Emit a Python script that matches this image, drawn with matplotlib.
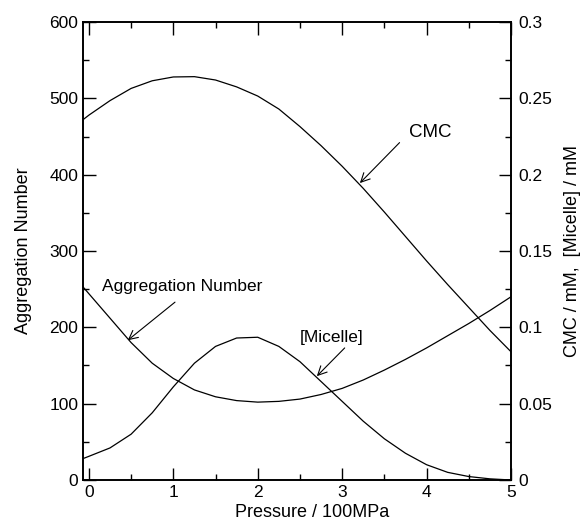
import matplotlib
matplotlib.use('Agg')
import matplotlib.pyplot as plt
from matplotlib.ticker import MultipleLocator

plt.rcParams['font.family'] = ['Liberation Sans', 'DejaVu Sans']

# pressure (100 MPa)
pressure = [-0.07, 0.0, 0.25, 0.5, 0.75, 1.0, 1.25, 1.5, 1.75, 2.0, 2.25, 2.5,
            2.75, 3.0, 3.25, 3.5, 3.75, 4.0, 4.25, 4.5, 4.75, 5.0]
# aggregation number (left axis)
agg_number = [253, 244, 212, 180, 153, 133, 118, 109, 104, 102, 103, 106,
              112, 120, 131, 144, 158, 173, 189, 205, 222, 240]
# CMC / mM (right axis)
cmc = [0.236, 0.239, 0.2485, 0.2565, 0.2615, 0.264, 0.2642, 0.262, 0.2575,
       0.2515, 0.243, 0.2315, 0.219, 0.2055, 0.191, 0.1755, 0.1595, 0.1435,
       0.128, 0.113, 0.098, 0.084]
# [Micelle] / mM (right axis)
micelle = [0.014, 0.0155, 0.021, 0.030, 0.044, 0.061, 0.0765, 0.0875, 0.093,
           0.0935, 0.0875, 0.0775, 0.0645, 0.0515, 0.0385, 0.027, 0.0175,
           0.010, 0.005, 0.00225, 0.00075, 0.0]

fig = plt.figure(figsize=(5.82, 5.24), dpi=100)
ax = fig.add_axes([0.1426, 0.084, 0.7354, 0.874])
ax2 = ax.twinx()

lw = 0.9
ax.plot(pressure, agg_number, color='black', lw=lw)
ax2.plot(pressure, cmc, color='black', lw=lw)
ax2.plot(pressure, micelle, color='black', lw=lw)

ax.set_xlim(-0.07, 5.0)
ax.set_ylim(0, 600)
ax2.set_ylim(0, 0.3)

ax.xaxis.set_major_locator(MultipleLocator(1))
ax.xaxis.set_minor_locator(MultipleLocator(0.5))
ax.yaxis.set_major_locator(MultipleLocator(100))
ax.yaxis.set_minor_locator(MultipleLocator(50))
ax2.yaxis.set_major_locator(MultipleLocator(0.05))
ax2.yaxis.set_minor_locator(MultipleLocator(0.025))

fs = 12.5
ax.tick_params(which='both', direction='in', top=True, right=False,
               labelsize=fs, width=1.0)
ax.tick_params(which='major', length=9)
ax.tick_params(which='minor', length=4.5)
ax2.tick_params(which='both', direction='in', labelsize=fs, width=1.0)
ax2.tick_params(which='major', length=9, pad=5)
ax2.tick_params(which='minor', length=4.5)

ax.set_xticklabels(['', '0', '1', '2', '3', '4', '5'])
ax2.set_yticklabels(['', '0', '0.05', '0.1', '0.15', '0.2', '0.25', '0.3'])
ax.set_yticklabels(['', '0', '100', '200', '300', '400', '500', '600'])

for a in (ax, ax2):
    for s in a.spines.values():
        s.set_linewidth(1.2)

ax.set_xlabel('Pressure / 100MPa', fontsize=13)
ax.xaxis.set_label_coords(0.535, -0.052)
ax.set_ylabel('Aggregation Number', fontsize=13, labelpad=12)
ax2.set_ylabel('CMC / mM,  [Micelle] / mM', fontsize=13, labelpad=9)

arrow = dict(arrowstyle='->', color='black', lw=0.8,
             mutation_scale=16, shrinkA=0, shrinkB=0)
ax.annotate('', xy=(3.21, 389), xytext=(3.68, 442), arrowprops=arrow)
ax.text(4.04, 455, 'CMC', fontsize=13.5, ha='center', va='center')
ax.annotate('', xy=(0.46, 183), xytext=(1.02, 233), arrowprops=arrow)
ax.text(1.10, 253, 'Aggregation Number', fontsize=12.5, ha='center', va='center')
ax.annotate('', xy=(2.70, 136), xytext=(3.03, 173), arrowprops=arrow)
ax.text(2.87, 187, '[Micelle]', fontsize=12.5, ha='center', va='center')

fig.savefig('out.png', dpi=100)
